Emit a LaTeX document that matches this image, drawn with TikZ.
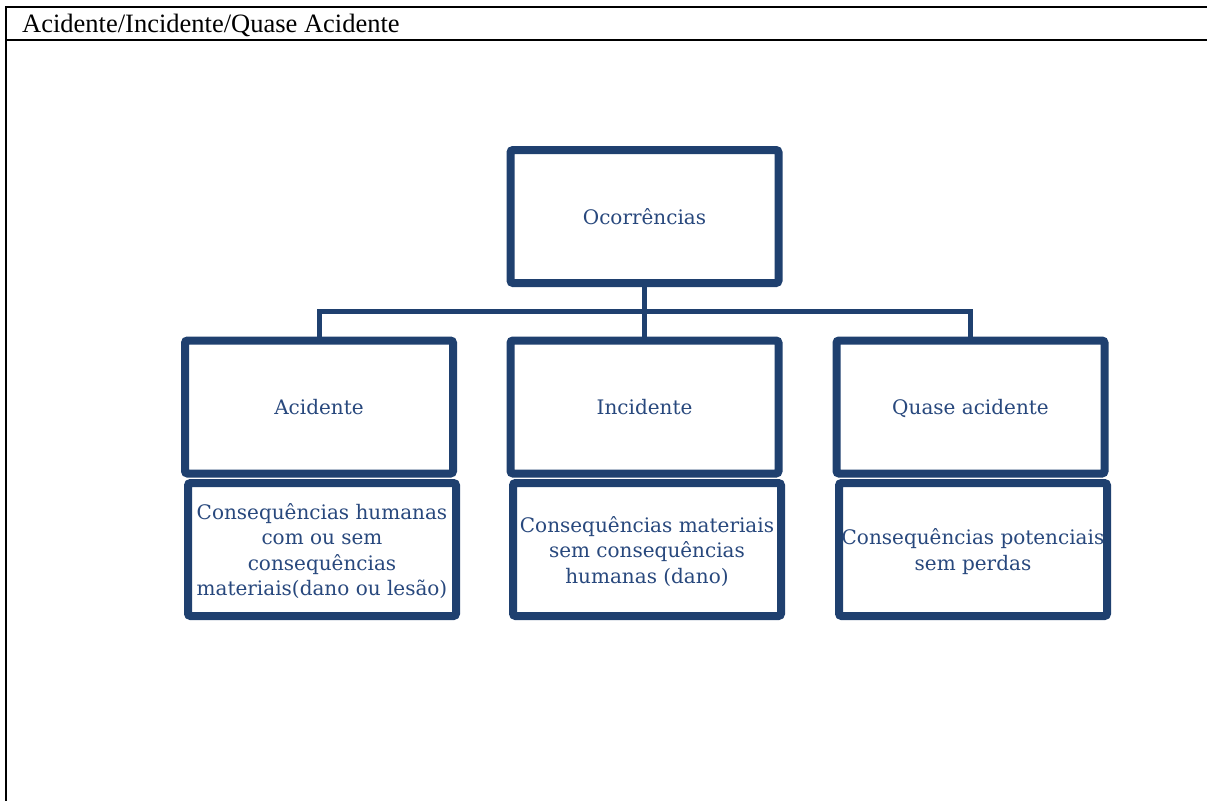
\documentclass[tikz,border=0pt]{standalone}
\usepackage{fontspec}
\setmainfont{Liberation Serif}
\newfontfamily\boxfont{DejaVu Serif}
\usetikzlibrary{shadows}
\definecolor{navy}{RGB}{31,64,111}
\definecolor{navytext}{RGB}{40,72,125}
\tikzset{
  frame/.style={line width=2pt, black},
  orgbox/.style={draw=navy, fill=white, line width=8pt, rounded corners=2.5pt,
    minimum width=268pt, minimum height=133pt, inner sep=0pt, align=center,
    text=navytext, font=\boxfont\fontsize{20}{25.5}\selectfont,
    drop shadow={shadow xshift=1.5pt, shadow yshift=-2.5pt, opacity=0.25, fill=black}},
  oneline/.style={text height=16pt, text depth=1pt},
  multiline/.style={text depth=-1pt},
  link/.style={draw=navy, line width=5pt}
}
\begin{document}
\begin{tikzpicture}[x=1pt,y=-1pt]
\useasboundingbox (0,0) rectangle (1207,801);
% table frame with header row
\draw[frame] (6,7) -- (1207,7);
\draw[frame] (6,40) -- (1207,40);
\draw[frame] (6,6) -- (6,801);
\node[anchor=base west, inner sep=0pt, font=\fontsize{26.5}{30}\selectfont] (title) at (22,32) {Acidente/Incidente/Quase Acidente};

% bus line of the organisation chart
\coordinate (bus) at (0,311);

% boxes
\node[orgbox, oneline] (oc) at (644.5,216.5) {Ocorrências};
\node[orgbox, oneline] (ac) at (319,407) {Acidente};
\node[orgbox, oneline] (in) at (644.5,407) {Incidente};
\node[orgbox, oneline] (qa) at (970.5,407) {Quase acidente};
\node[orgbox, multiline] (acd) at (322,549.5) {Consequências humanas\\com ou sem\\consequências\\materiais(dano ou lesão)};
\node[orgbox, multiline] (ind) at (647,549.5) {Consequências materiais\\sem consequências\\humanas (dano)};
\node[orgbox, multiline] (qad) at (973,549.5) {Consequências potenciais\\sem perdas};

% connectors
\draw[link] (oc.south) -- (oc.south |- bus);
\draw[link] (ac.north) -- (ac.north |- bus) -| (qa.north);
\draw[link] (in.north) -- (in.north |- bus);
\end{tikzpicture}
\end{document}
